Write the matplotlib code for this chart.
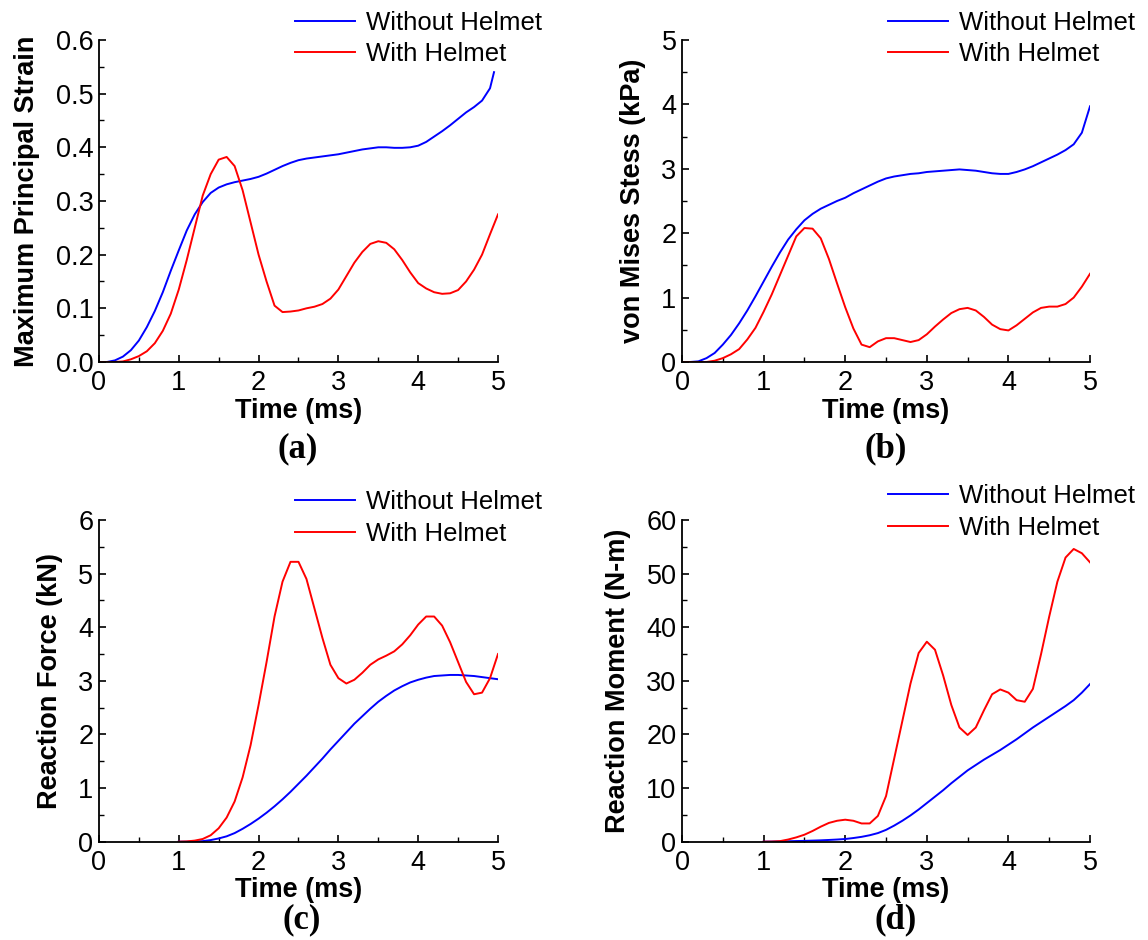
import numpy as np
import matplotlib
matplotlib.use("Agg")
import matplotlib.pyplot as plt
from matplotlib.ticker import MultipleLocator, FormatStrFormatter

plt.rcParams['font.family'] = ['Liberation Sans', 'DejaVu Sans']

# time axes (ms)
t_full = [round(0.1 * i, 1) for i in range(51)]
t_late = [round(1.0 + 0.1 * i, 1) for i in range(41)]
t_a_blue = t_full[:50] + [4.95]

# (a) maximum principal strain
strain_without = [0.0, 0.0, 0.003, 0.01, 0.022, 0.04, 0.065, 0.095, 0.13, 0.17,
                  0.208, 0.245, 0.275, 0.298, 0.315, 0.325, 0.331, 0.335, 0.338, 0.341,
                  0.345, 0.351, 0.358, 0.365, 0.371, 0.376, 0.379, 0.381, 0.383, 0.385,
                  0.387, 0.39, 0.393, 0.396, 0.398, 0.4, 0.4, 0.399, 0.399, 0.4,
                  0.403, 0.41, 0.42, 0.43, 0.441, 0.453, 0.465, 0.475, 0.487, 0.51,
                  0.54]
strain_with = [0.0, 0.0, 0.0, 0.001, 0.005, 0.011, 0.02, 0.035, 0.058, 0.09,
               0.135, 0.19, 0.25, 0.31, 0.35, 0.377, 0.382, 0.365, 0.32, 0.26,
               0.2, 0.15, 0.105, 0.093, 0.094, 0.096, 0.1, 0.103, 0.108, 0.118,
               0.135, 0.16, 0.185, 0.205, 0.22, 0.225, 0.222, 0.21, 0.19, 0.167,
               0.147, 0.137, 0.13, 0.127, 0.128, 0.134, 0.15, 0.172, 0.2, 0.238,
               0.275]

# (b) von Mises stress (kPa)
stress_without = [0.0, 0.0, 0.01, 0.06, 0.14, 0.27, 0.42, 0.6, 0.8, 1.02,
                  1.25, 1.48, 1.7, 1.9, 2.06, 2.2, 2.3, 2.38, 2.44, 2.5,
                  2.55, 2.62, 2.68, 2.74, 2.8, 2.85, 2.88, 2.9, 2.92, 2.93,
                  2.95, 2.96, 2.97, 2.98, 2.99, 2.98, 2.97, 2.95, 2.93, 2.92,
                  2.92, 2.95, 2.99, 3.04, 3.1, 3.16, 3.22, 3.29, 3.38, 3.56,
                  3.97]
stress_with = [0.0, 0.0, 0.0, 0.0, 0.02, 0.06, 0.12, 0.2, 0.35, 0.53,
               0.78, 1.05, 1.35, 1.65, 1.95, 2.08, 2.07, 1.92, 1.6, 1.22,
               0.85, 0.52, 0.27, 0.23, 0.32, 0.37, 0.37, 0.34, 0.31, 0.34,
               0.43, 0.55, 0.66, 0.76, 0.82, 0.84, 0.8, 0.7, 0.58, 0.51,
               0.49, 0.57, 0.67, 0.77, 0.84, 0.86, 0.86, 0.9, 1.0, 1.17,
               1.37]

# (c) reaction force (kN), from t = 1 ms
force_without = [0.0, 0.0, 0.005, 0.01, 0.03, 0.06, 0.1, 0.16, 0.24, 0.33,
                 0.43, 0.54, 0.66, 0.79, 0.93, 1.08, 1.23, 1.39, 1.55, 1.72,
                 1.88, 2.04, 2.2, 2.34, 2.48, 2.61, 2.72, 2.82, 2.9, 2.97,
                 3.02, 3.06, 3.09, 3.1, 3.11, 3.11, 3.1, 3.09, 3.07, 3.05,
                 3.03]
force_with = [0.0, 0.005, 0.02, 0.05, 0.12, 0.25, 0.45, 0.75, 1.2, 1.8,
              2.55, 3.35, 4.2, 4.85, 5.22, 5.22, 4.9, 4.35, 3.8, 3.3,
              3.05, 2.95, 3.02, 3.15, 3.3, 3.4, 3.47, 3.55, 3.68, 3.85,
              4.05, 4.2, 4.2, 4.03, 3.72, 3.35, 2.98, 2.75, 2.78, 3.05,
              3.5]

# (d) reaction moment (N-m), from t = 1 ms
moment_without = [0.0, 0.02, 0.05, 0.08, 0.12, 0.15, 0.2, 0.25, 0.32, 0.4,
                  0.5, 0.68, 0.9, 1.2, 1.6, 2.2, 3.0, 3.9, 4.9, 6.0,
                  7.2, 8.4, 9.6, 10.9, 12.1, 13.3, 14.3, 15.3, 16.2, 17.1,
                  18.1, 19.1, 20.2, 21.3, 22.3, 23.3, 24.3, 25.3, 26.4, 27.8,
                  29.4]
moment_with = [0.0, 0.02, 0.1, 0.4, 0.8, 1.3, 2.0, 2.8, 3.5, 3.9,
               4.1, 3.9, 3.4, 3.4, 4.8, 8.5, 15.5, 22.5, 29.5, 35.2,
               37.3, 35.8, 31.0, 25.5, 21.3, 19.9, 21.3, 24.5, 27.5, 28.4,
               27.8, 26.4, 26.1, 28.5, 35.0, 42.0, 48.5, 53.0, 54.6, 53.8,
               52.1]

panels = [
    dict(tb=t_a_blue, yb=strain_without, tr=t_full, yr=strain_with,
         ylabel="Maximum Principal Strain", ymax=0.6, ystep=0.1, fmt="%.1f",
         tag="(a)", rect=[0.0862, 0.6149, 0.3476, 0.3426],
         leg=(0.2570, 0.9888), tagpos=(0.2596, 0.523)),
    dict(tb=t_full, yb=stress_without, tr=t_full, yr=stress_with,
         ylabel="von Mises Stess (kPa)", ymax=5, ystep=1, fmt="%d",
         tag="(b)", rect=[0.5941, 0.6149, 0.3554, 0.3426],
         leg=(0.7735, 0.9888), tagpos=(0.7718, 0.523)),
    dict(tb=t_late, yb=force_without, tr=t_late, yr=force_with,
         ylabel="Reaction Force (kN)", ymax=6, ystep=1, fmt="%d",
         tag="(c)", rect=[0.0862, 0.1046, 0.3476, 0.3422],
         leg=(0.2570, 0.4782), tagpos=(0.2631, 0.021)),
    dict(tb=t_late, yb=moment_without, tr=t_late, yr=moment_with,
         ylabel="Reaction Moment (N-m)", ymax=60, ystep=10, fmt="%d",
         tag="(d)", rect=[0.5941, 0.1046, 0.3554, 0.3422],
         leg=(0.7735, 0.4846), tagpos=(0.7805, 0.022)),
]

fig = plt.figure(figsize=(11.48, 9.4), dpi=100)

for p in panels:
    ax = fig.add_axes(p["rect"])
    l1, = ax.plot(p["tb"], p["yb"], color="#0000ff", lw=1.4, label="Without Helmet")
    l2, = ax.plot(p["tr"], p["yr"], color="#ff0000", lw=1.4, label="With Helmet")
    ax.set_xlim(0, 5)
    ax.set_ylim(0, p["ymax"])
    ax.xaxis.set_major_locator(MultipleLocator(1))
    ax.xaxis.set_minor_locator(MultipleLocator(0.5))
    ax.yaxis.set_major_locator(MultipleLocator(p["ystep"]))
    ax.yaxis.set_minor_locator(MultipleLocator(p["ystep"] / 2))
    ax.yaxis.set_major_formatter(FormatStrFormatter(p["fmt"]))
    for s in ("top", "right"):
        ax.spines[s].set_visible(False)
    for s in ("left", "bottom"):
        ax.spines[s].set_linewidth(1.3)
    ax.tick_params(which="major", direction="in", length=5, width=1.2,
                   labelsize=19.5)
    ax.tick_params(which="minor", direction="in", length=3.5, width=1.0)
    ax.tick_params(axis="x", which="major", pad=6)
    ax.tick_params(axis="y", which="major", pad=4)
    ax.set_xlabel("Time (ms)", fontsize=19.5, fontweight="bold", labelpad=1)
    ax.set_ylabel(p["ylabel"], fontsize=19.5, fontweight="bold", labelpad=11)
    fig.legend(handles=[l1, l2], loc="upper left", bbox_to_anchor=p["leg"],
               bbox_transform=fig.transFigure, frameon=False, fontsize=18.5,
               handlelength=2.35, handletextpad=0.4, labelspacing=0.3,
               borderaxespad=0, borderpad=0)
    fig.text(p["tagpos"][0], p["tagpos"][1], p["tag"], fontsize=25,
             fontweight="bold", ha="center", va="center",
             family=["Liberation Serif", "DejaVu Serif"])

fig.savefig("out.png", dpi=100)
